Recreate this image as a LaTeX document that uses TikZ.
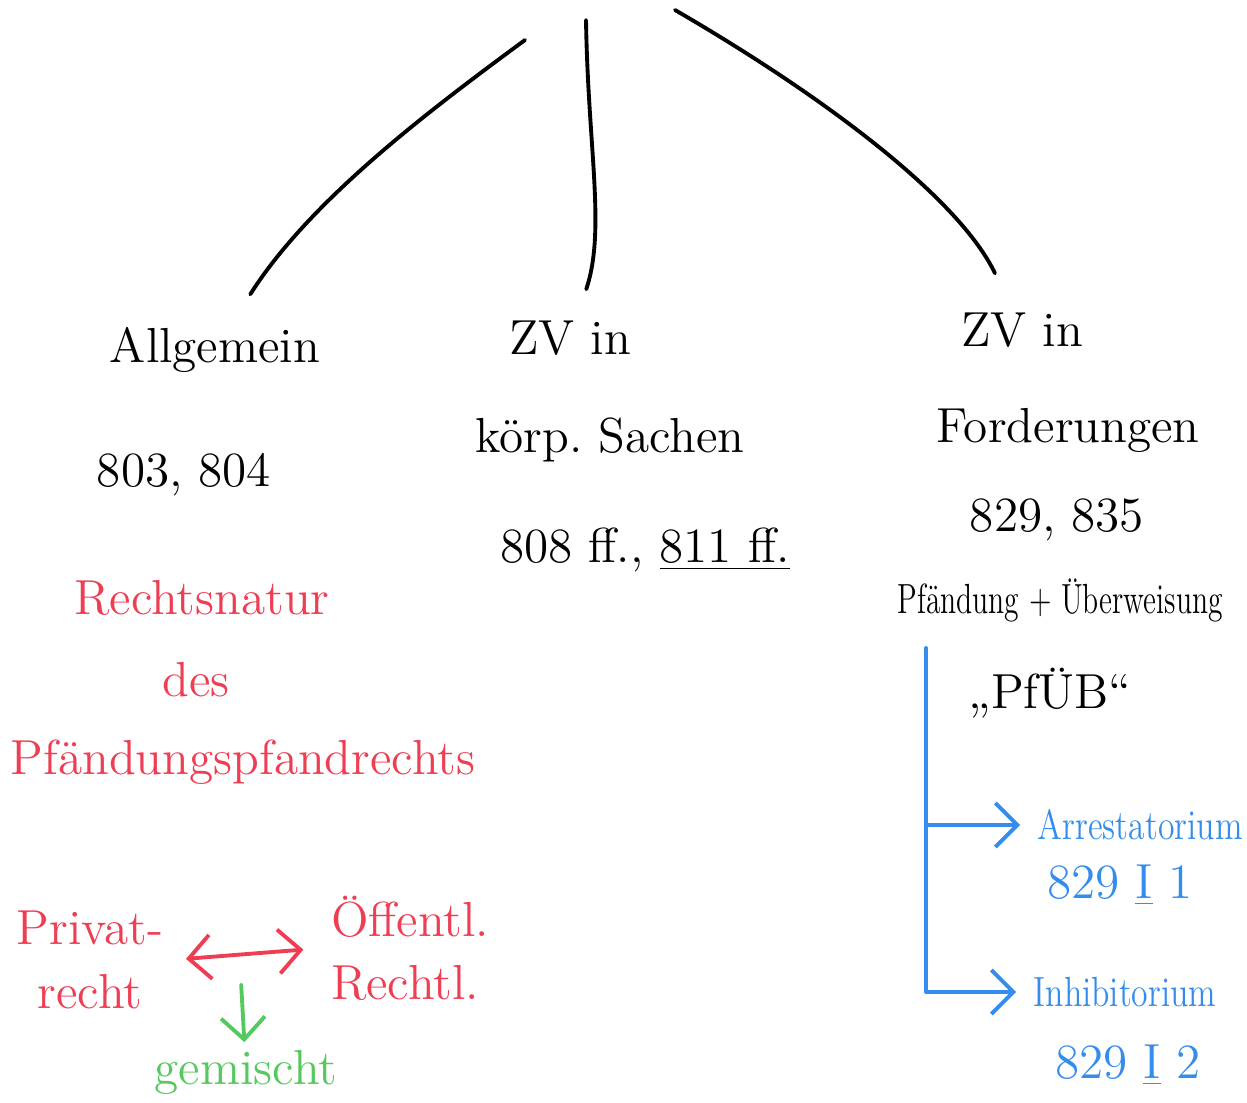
\documentclass[tikz,border=0pt]{standalone}
\usetikzlibrary{arrows.meta}
\usetikzlibrary{positioning}

\definecolor{notered}{RGB}{238,62,84}
\definecolor{noteblue}{RGB}{52,140,236}
\definecolor{notegreen}{RGB}{86,200,96}

\newcommand{\narrowtext}[2][0.8]{\scalebox{#1}[1]{#2}}

\tikzset{
  hand/.style={font=\fontsize{14}{18}\selectfont,inner sep=2pt},
  smallhand/.style={font=\fontsize{12}{15}\selectfont,inner sep=2pt},
  pen/.style={line width=1.1pt,line cap=round,line join=round},
  barb/.style={-{Straight Barb[length=2.2mm,width=4.4mm]}},
  twobarb/.style={{Straight Barb[length=2.2mm,width=4.4mm]}-{Straight Barb[length=2.2mm,width=4.4mm]}},
}

\begin{document}
\begin{tikzpicture}[x=0.1mm,y=-0.1mm]
\useasboundingbox (0,0) rectangle (1247,1102);
\clip (0,0) rectangle (1247,1102);

% headings
\node[hand] (allg) at (215,350) {Allgemein};
\node[hand] (zvA) at (570,338) {ZV in};
\node[hand] (zvF) at (1022,330) {ZV in};

\coordinate (topA) at (525,40);
\coordinate (topB) at (586,20);
\coordinate (topC) at (675,10);
\draw[pen,shorten >=3mm] (topA) .. controls (430,110) and (310,200) .. (allg);
\draw[pen,shorten >=2.5mm] (topB) .. controls (588,150) and (606,230) .. (zvA);
\draw[pen,shorten >=3.5mm] (topC) .. controls (830,100) and (960,200) .. (zvF);

% left column
\node[hand] (allgpar) at (184,475) {803, 804};
\node[hand,text=notered] (rnatur) at (202,598) {Rechtsnatur};
\node[hand,text=notered] (des) at (196,680) {des};
\node[hand,text=notered] (pfpf) at (243,762) {Pfändungspfandrechts};

\node[hand,text=notered,align=center] (privat) at (90,960) {Privat-\\recht};
\node[hand,text=notered,align=left] (oeff) at (410,948) {Öffentl.\\Rechtl.};
\node[hand,text=notegreen] (gem) at (246,1072) {gemischt};
\draw[pen,notered,twobarb,shorten <=1.5mm,shorten >=2mm] (privat.east) -- coordinate[pos=0.45] (mitte) (oeff.west);
\draw[pen,notegreen,barb,shorten <=3mm] (mitte) -- (gem);

% middle column
\node[hand] (sachen) at (610,440) {körp.\ Sachen};
\node[hand] (sachpar) at (645,550) {808 ff., \underline{811 ff.}};

% right column
\node[hand] (ford) at (1068,430) {Forderungen};
\node[hand] (fordpar) at (1057,520) {829, 835};
\node[smallhand,anchor=west] (pfue) at (890,600) {\narrowtext[0.7]{Pfändung + Überweisung}};
\node[hand] (pfoeb) at (1050,693) {„PfÜB“};

\node[smallhand,text=noteblue,anchor=west] (arrest) at (1030,825) {\narrowtext{Arrestatorium}};
\node[hand,text=noteblue] (arrpar) at (1120,885) {829 \underline{I} 1};
\node[smallhand,text=noteblue,anchor=west] (inhib) at (1026,992) {\narrowtext{Inhibitorium}};
\node[hand,text=noteblue] (inhpar) at (1128,1065) {829 \underline{I} 2};

\coordinate (brtop) at (926,648);
\draw[pen,noteblue,barb,shorten >=1mm] (brtop) |- (inhib.west);
\draw[pen,noteblue,barb,shorten >=1mm] (brtop |- arrest.west) -- (arrest.west);

\end{tikzpicture}
\end{document}
